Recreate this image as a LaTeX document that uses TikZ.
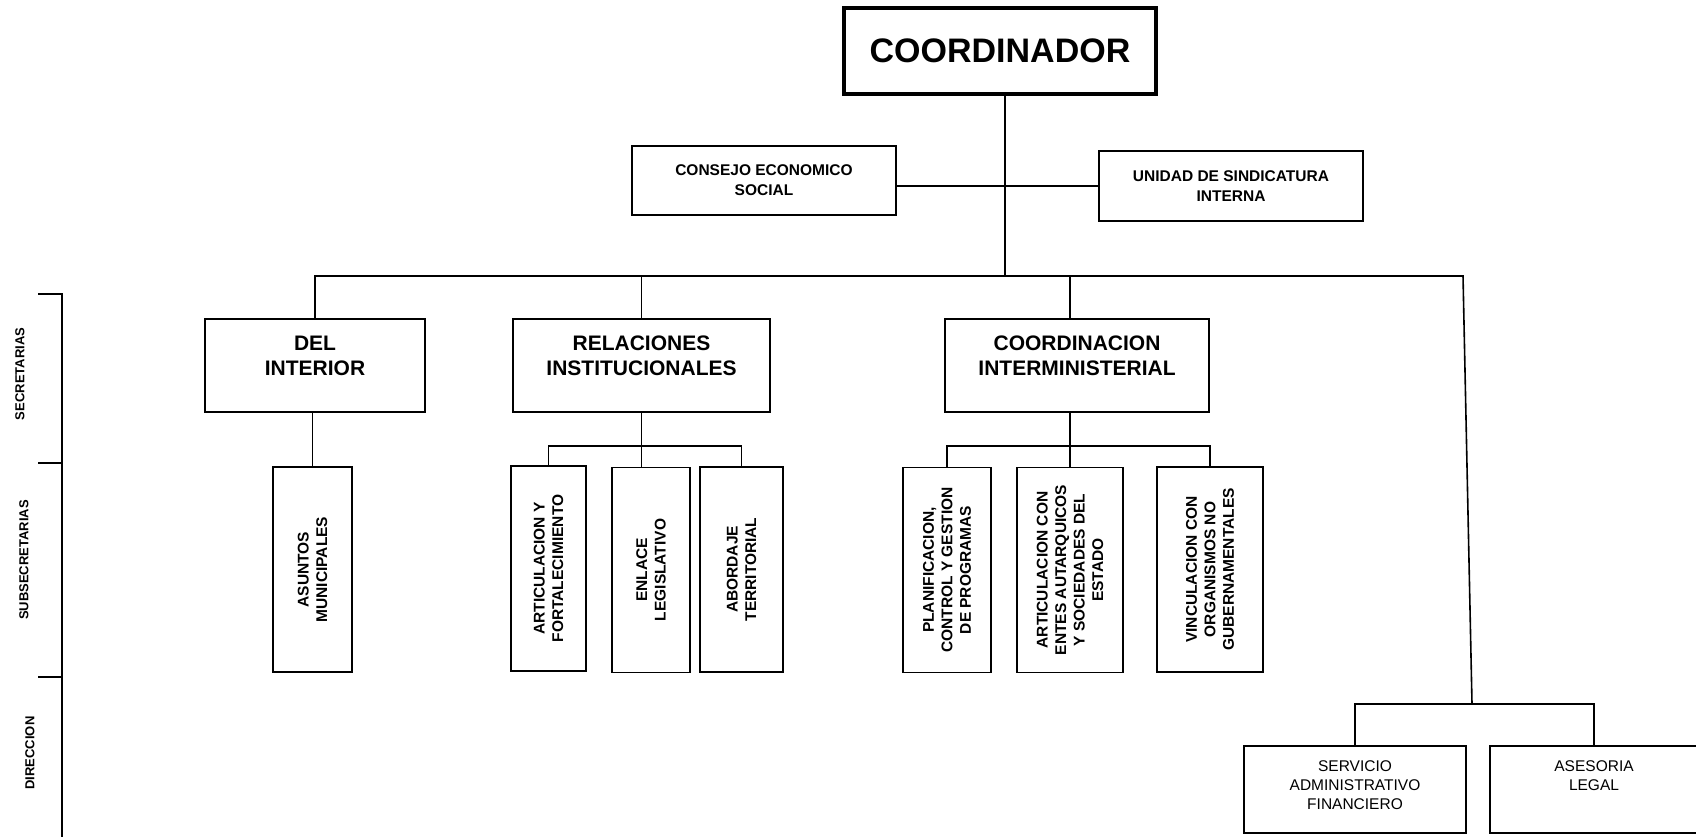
\documentclass[tikz,border=0pt]{standalone}
\usepackage{fontspec}
\setmainfont{Liberation Sans}

\begin{document}
\begin{tikzpicture}[
	x=1pt, y=-1pt,
	line width=1.6pt,
	unitbox/.style={draw, line width=1.8pt, inner sep=0pt, align=center, font=\bfseries\fontsize{15.5}{20}\selectfont},
	topbox/.style n args={3}{draw, line width=1.8pt, inner sep=0pt,
		execute at begin node={\begin{minipage}[c][#2][t]{#1}\centering\rule{0pt}{#3}},
		execute at end node={\end{minipage}}},
	secbox/.style={topbox={#1}{93pt}{31.5pt}, font=\bfseries\fontsize{21}{25}\selectfont},
	dirbox/.style={topbox={#1}{87pt}{25.5pt}, font=\fontsize{15.5}{19}\selectfont},
	subbox/.style={draw, line width=1.8pt, rotate=90, inner sep=0pt, minimum width=205pt, minimum height=#1, align=center, font=\bfseries\fontsize{15.5}{18.5}\selectfont},
	tier/.style={rotate=90, inner sep=0pt, font=\bfseries\fontsize{13}{15}\selectfont}
	]
	\useasboundingbox (0,0) rectangle (1696,837);

	\node [draw, line width=3.5pt, minimum width=312pt, minimum height=86pt, font=\bfseries\fontsize{34}{40}\selectfont] (coord) at (1000,51) {COORDINADOR};
	\node [unitbox, minimum width=264pt, minimum height=69pt] (consejo) at (764,180.5) {CONSEJO ECONOMICO\\SOCIAL};
	\node [unitbox, minimum width=264pt, minimum height=70pt] (sindicatura) at (1231,186) {UNIDAD DE SINDICATURA\\INTERNA};

	% secretarias
	\node [secbox=220pt] (interior) at (315,365.5) {DEL\\INTERIOR};
	\node [secbox=257pt] (relaciones) at (641.5,365.5) {RELACIONES\\INSTITUCIONALES};
	\node [secbox=264pt] (coordinacion) at (1077,365.5) {COORDINACION\\INTERMINISTERIAL};

	% subsecretarias
	\node [subbox=79pt] (asuntos) at (312.5,569.5) {ASUNTOS\\MUNICIPALES};
	\node [subbox=75pt] (artic) at (548.5,568.5) {ARTICULACION Y\\FORTALECIMIENTO};
	\node [subbox=78pt] (enlace) at (651,570) {ENLACE\\LEGISLATIVO};
	\node [subbox=83pt] (abordaje) at (741.5,569.5) {ABORDAJE\\TERRITORIAL};
	\node [subbox=88pt] (planif) at (947,570) {PLANIFICACION,\\CONTROL Y GESTION\\DE PROGRAMAS};
	\node [subbox=106pt] (entes) at (1070,570) {ARTICULACION CON\\ENTES AUTARQUICOS\\Y SOCIEDADES DEL\\ESTADO};
	\node [subbox=106pt] (vincul) at (1210,569.5) {VINCULACION CON\\ORGANISMOS NO\\GUBERNAMENTALES};

	% direccion
	\node [dirbox=222pt] (servicio) at (1355,789.5) {SERVICIO\\ADMINISTRATIVO\\FINANCIERO};
	\node [dirbox=208pt] (asesoria) at (1594,789.5) {ASESORIA\\LEGAL};

	% niveles
	\node [tier] (secretarias) at (20,374) {SECRETARIAS};
	\node [tier] (subsecretarias) at (24,560) {SUBSECRETARIAS};
	\node [tier] (direccion) at (30,753) {DIRECCION};
	\draw [line width=2.2pt] (38,294) -- (62,294) -- (62,840);
	\draw [line width=2.2pt] (38,463) -- (62,463);
	\draw [line width=2.2pt] (38,677) -- (62,677);

	\coordinate (hub) at (1005,276);
	\coordinate (rbus) at (1463,276);
	\coordinate (dbus) at (1472,704);
	\draw (coord.south -| hub) -- (hub);
	\draw (consejo.east |- sindicatura.west) -- (sindicatura.west);
	\draw (interior.north) |- (rbus) -- (dbus);
	\draw (relaciones.north) -- (relaciones.north |- hub);
	\draw (entes.east |- coordinacion.north) -- (entes.east |- hub);
	\draw (asuntos.east |- interior.south) -- (asuntos.east);
	\draw (relaciones.south) -- (relaciones.south |- enlace.east);
	\draw (artic.east) |- ([yshift=-33pt]relaciones.south) -| (abordaje.east);
	\draw (entes.east |- coordinacion.south) -- (entes.east);
	\draw (planif.east) |- ([yshift=-33pt]coordinacion.south) -| (vincul.east);
	\draw (servicio.north) |- (dbus) -| (asesoria.north);
\end{tikzpicture}
\end{document}
